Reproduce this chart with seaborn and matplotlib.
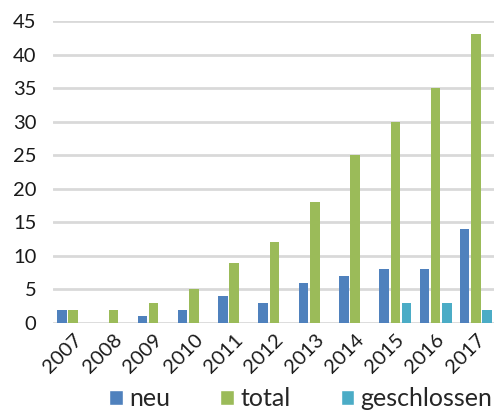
import pandas as pd
import matplotlib
matplotlib.use("Agg")
import matplotlib.pyplot as plt
import seaborn as sns
from matplotlib.patches import Patch

# Data
years = ["2007", "2008", "2009", "2010", "2011", "2012", "2013", "2014", "2015", "2016", "2017"]
neu = [2, 0, 1, 2, 4, 3, 6, 7, 8, 8, 14]
total = [2, 2, 3, 5, 9, 12, 18, 25, 30, 35, 43]
geschlossen = [0, 0, 0, 0, 0, 0, 0, 0, 3, 3, 2]
series = ["neu", "total", "geschlossen"]
colors = ["#4F81BD", "#9BBB59", "#4BACC6"]

df = pd.DataFrame({"Jahr": years, "neu": neu, "total": total, "geschlossen": geschlossen})
long = df.melt(id_vars="Jahr", var_name="Serie", value_name="Anzahl")

sns.set_style("white")
plt.rcParams["font.family"] = ["Lato", "DejaVu Sans"]

fig = plt.figure(figsize=(4.94, 4.12), dpi=100)
ax = fig.add_axes([53 / 494, 89 / 412, 443 / 494, 302 / 412])

sns.barplot(data=long, x="Jahr", y="Anzahl", hue="Serie", hue_order=series,
            palette=colors, width=0.84, gap=0.15, ax=ax, legend=False,
            linewidth=0, saturation=1)

ax.set_xlim(-0.5, 10.5)
ax.set_ylim(0, 45)
ax.set_yticks(range(0, 46, 5))
ax.yaxis.grid(True, color="#D9D9D9", linewidth=2)
ax.set_axisbelow(True)
for s in ax.spines.values():
    s.set_visible(False)
ax.tick_params(axis="both", length=0, labelsize=14.5, colors="#1a1a1a")
ax.tick_params(axis="y", pad=12)
ax.tick_params(axis="x", pad=6)
ax.set_xlabel("")
ax.set_ylabel("")
plt.setp(ax.get_xticklabels(), rotation=45, ha="right", rotation_mode="anchor")

# legend sits at the very bottom edge, like the reference
handles = [Patch(facecolor=c, label=s) for s, c in zip(series, colors)]
fig.legend(handles=handles, loc="lower center", bbox_to_anchor=(0.609, 0.004), ncol=3,
           frameon=False, fontsize=18, handlelength=0.55, handleheight=0.55,
           handletextpad=0.25, columnspacing=2.0, borderpad=0, borderaxespad=0)

fig.savefig("out.png", dpi=100)
